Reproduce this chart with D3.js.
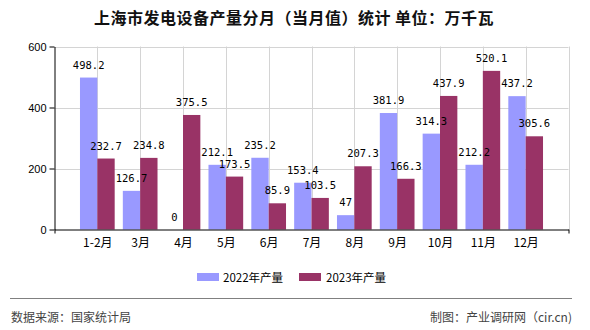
<!DOCTYPE html>
<html><head><meta charset="utf-8">
<script src="https://cdn.jsdelivr.net/npm/d3@7"></script>
<style>
html,body{margin:0;padding:0;background:#fff;}
svg{display:block;}
</style></head>
<body>
<svg id="chart" width="590" height="330"></svg>
<script>
const title = "上海市发电设备产量分月（当月值）统计 单位：万千瓦";
const categories = ["1-2月","3月","4月","5月","6月","7月","8月","9月","10月","11月","12月"];
const series2022 = [498.2,126.7,0,212.1,235.2,153.4,47,381.9,314.3,212.2,437.2];
const series2023 = [232.7,234.8,375.5,173.5,85.9,103.5,207.3,166.3,437.9,520.1,305.6];
const seriesNames = ["2022年产量","2023年产量"];
const yTicks = [0,200,400,600];
const colors = ["#9999ff","#993366"];
const sourceText = "数据来源：国家统计局";
const creditText = "制图：产业调研网（cir.cn)";

(function(){
const svg = d3.select("#chart");
const pL = 54.5, pR = 568.5, pT = 46.5, pB = 229.5;
const x = d3.scaleLinear().domain([0, categories.length + 1]).range([pL, pR]);
const y = d3.scaleLinear().domain([0, 600]).range([pB, pT]);
const bw = (x(1) - x(0)) * 0.405;

// title
svg.append("text").attr("x", 294).attr("y", 17).attr("text-anchor", "middle")
  .attr("dominant-baseline", "central")
  .style("font-family", "'Noto Sans CJK SC', sans-serif").style("font-size", "16px")
  .style("font-weight", "bold").style("letter-spacing", "0.5px").attr("fill", "#111").text(title);

// grid
const grid = svg.append("g").attr("stroke", "#d4d4d4").attr("stroke-width", 1);
yTicks.filter(v => v > 0).forEach(v => {
  grid.append("line").attr("x1", pL).attr("x2", pR).attr("y1", Math.round(y(v)) + 0.5).attr("y2", Math.round(y(v)) + 0.5);
});
d3.range(1, categories.length + 2).forEach(i => {
  const xx = Math.round(x(i)) + 0.5;
  grid.append("line").attr("x1", xx).attr("x2", xx).attr("y1", pT).attr("y2", pB);
});

// bars
const bars = svg.append("g");
categories.forEach((c, i) => {
  const cx = x(i + 1);
  [series2022, series2023].forEach((s, k) => {
    const v = s[i];
    const x0 = k === 0 ? cx - bw : cx;
    bars.append("rect").attr("x", x0).attr("width", bw)
      .attr("y", y(v)).attr("height", y(0) - y(v)).attr("fill", colors[k]);
  });
});

// axes
const yAxis = d3.axisLeft(y).tickValues(yTicks).tickSize(5).tickSizeOuter(0).tickPadding(3);
const gy = svg.append("g").attr("transform", `translate(${pL},0)`).call(yAxis);
gy.selectAll("text").style("font-family", "'Liberation Sans', Arial, sans-serif").style("font-size", "11px").attr("fill", "#000");
gy.selectAll("line,path").attr("stroke", "#000");

const xAxis = d3.axisBottom(x).tickValues([0, categories.length + 1]).tickFormat("").tickSize(4).tickSizeOuter(0);
const gx = svg.append("g").attr("transform", `translate(0,${pB})`).call(xAxis);
gx.selectAll("line,path").attr("stroke", "#000");
const xLab = d3.axisBottom(x).tickValues(d3.range(1, categories.length + 1))
  .tickFormat(i => categories[i - 1]).tickSize(0).tickPadding(9);
const gl = svg.append("g").attr("transform", `translate(0,${pB})`).call(xLab);
gl.select(".domain").remove();
gl.selectAll("text").style("font-family", "'Noto Sans CJK SC', sans-serif").style("font-size", "12px").attr("fill", "#000");

// data labels
const lab = svg.append("g").style("font-family", "'DejaVu Sans Mono', monospace").style("font-size", "10.5px").attr("fill", "#000").attr("text-anchor", "middle");
categories.forEach((c, i) => {
  const cx = x(i + 1);
  [series2022, series2023].forEach((s, k) => {
    const v = s[i];
    lab.append("text").attr("x", k === 0 ? cx - bw / 2 : cx + bw / 2).attr("y", y(v) - 9).text(v);
  });
});

// legend
const lg = svg.append("g");
[[197, 223], [299, 326]].forEach((p, k) => {
  lg.append("rect").attr("x", p[0]).attr("y", 273).attr("width", 22).attr("height", 8).attr("fill", colors[k]);
  lg.append("text").attr("x", p[1]).attr("y", 282).style("font-family", "'Noto Sans CJK SC', sans-serif")
    .style("font-size", "11.5px").attr("fill", "#000").text(seriesNames[k]);
});

// footer
svg.append("line").attr("x1", 10).attr("x2", 572).attr("y1", 298.5).attr("y2", 298.5).attr("stroke", "#808080").attr("stroke-width", 1.2);
svg.append("text").attr("x", 11).attr("y", 316).attr("dominant-baseline", "central")
  .style("font-family", "'Noto Sans CJK SC', sans-serif").style("font-size", "12px").attr("fill", "#444").text(sourceText);
svg.append("text").attr("x", 572).attr("y", 316).attr("dominant-baseline", "central").attr("text-anchor", "end")
  .style("font-family", "'Noto Sans CJK SC', sans-serif").style("font-size", "12px").attr("fill", "#444").text(creditText);
})();
</script>
</body></html>
